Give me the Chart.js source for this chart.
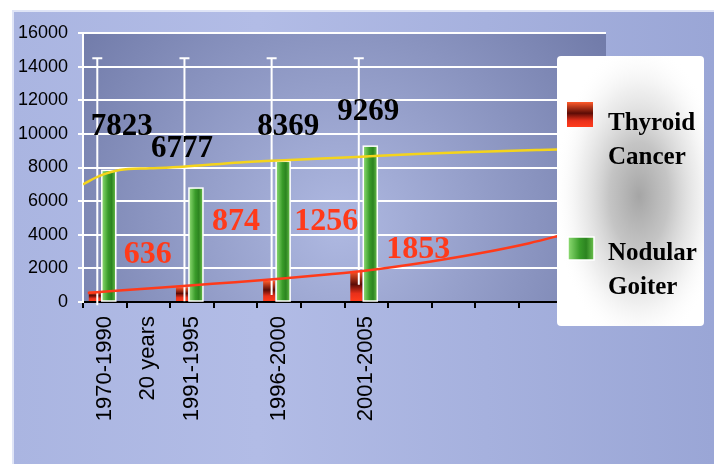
<!DOCTYPE html>
<html>
<head>
<meta charset="utf-8">
<title>Thyroid Cancer and Nodular Goiter</title>
<script src="https://cdn.jsdelivr.net/npm/chart.js@4.4.0/dist/chart.umd.min.js"></script>
<style>
    html, body { margin: 0; padding: 0; background: #fff; }
    #wrap { width: 714px; height: 464px; }
</style>
</head>
<body>
<div id="wrap"><canvas id="chart"></canvas></div>
<script>
var slotLabels = ["1970-1990", "20 years", "1991-1995", "", "1996-2000", "", "2001-2005", "", "", "", "", ""];
var periods = ["1970-1990", "1991-1995", "1996-2000", "2001-2005"];
var thyroidCancer = [636, 874, 1256, 1853];
var nodularGoiter = [7823, 6777, 8369, 9269];
var errorTop = [14500, 14500, 14500, 14500];
var yTicks = [0, 2000, 4000, 6000, 8000, 10000, 12000, 14000, 16000];

// trendlines; x is counted in category slots from the left edge
var goiterTrendX = [0, 0.38, 0.84, 1.53, 2.29, 3.6, 4.74, 6.27, 7.65, 8.94, 10.47, 12];
var goiterTrendY = [7000, 7500, 7850, 7950, 8050, 8300, 8450, 8630, 8800, 8920, 9040, 9150];
var cancerTrendX = [0.11, 0.91, 2.06, 2.97, 4.58, 5.66, 6.42, 7.95, 9.1, 10.24, 10.86, 12];
var cancerTrendY = [540, 700, 900, 1080, 1400, 1650, 1850, 2400, 2900, 3500, 3900, 4700];

// where the value labels sit, in pixels from the top of their bar
var goiterLabelShift = [[13, -35], [-14, -31], [5, -26], [-2, -26]];
var cancerLabelShift = [[53, -28], [54, -57], [57, -51], [62, -13]];

function pairs(xs, ys) {
    return xs.map(function (x, i) { return {x: x, y: ys[i]}; });
}

// bar box: x from the category scale, top and base from the bar element
function barBox(chart, dsIndex, i) {
    var ds = chart.data.datasets[dsIndex];
    var bar = chart.getDatasetMeta(dsIndex).data[i];
    var p = bar.getProps(['y', 'base'], true);
    var cx = chart.scales.x.getPixelForValue(periods[i]) + ds.shift;
    return {x: cx, left: cx - ds.drawWidth / 2, width: ds.drawWidth, y: p.y, base: p.base};
}

function redShade(c, top, bottom) {
    var g = c.createLinearGradient(0, top, 0, bottom);
    g.addColorStop(0, '#ff5a2a');
    g.addColorStop(0.45, '#5c0c06');
    g.addColorStop(0.75, '#e8301a');
    g.addColorStop(1, '#ff3c1c');
    return g;
}

function greenShade(c, left, right) {
    var g = c.createLinearGradient(left, 0, right, 0);
    g.addColorStop(0, '#8fdc74');
    g.addColorStop(0.45, '#3a9c2a');
    g.addColorStop(0.7, '#2c8420');
    g.addColorStop(1, '#6cc24e');
    return g;
}

var backdrop = {
    id: 'backdrop',
    beforeDraw: function (chart) {
        var c = chart.ctx, a = chart.chartArea;
        c.save();
        c.fillStyle = '#fff';
        c.fillRect(0, 0, chart.width, chart.height);
        var g = c.createLinearGradient(12, 0, chart.width, 0);
        g.addColorStop(0, '#aab5e1');
        g.addColorStop(0.35, '#b2bce6');
        g.addColorStop(1, '#9aa6d6');
        c.fillStyle = g;
        c.fillRect(12, 10, chart.width - 12, chart.height - 10);
        c.strokeStyle = '#dfe4f6';
        c.lineWidth = 2;
        c.beginPath();
        c.moveTo(13, chart.height);
        c.lineTo(13, 11);
        c.lineTo(chart.width, 11);
        c.stroke();
        var r = c.createRadialGradient(340, 225, 10, 340, 225, 320);
        r.addColorStop(0, '#adb7e0');
        r.addColorStop(1, '#727caa');
        c.fillStyle = r;
        c.fillRect(a.left, a.top, a.right - a.left, a.bottom - a.top);
        c.restore();
    }
};

var barShade = {
    id: 'barShade',
    afterDatasetDraw: function (chart, args) {
        var ds = chart.data.datasets[args.index];
        if (ds.type !== 'bar') return;
        var c = chart.ctx;
        var y = chart.scales.y;
        c.save();
        args.meta.data.forEach(function (bar, i) {
            var b = barBox(chart, args.index, i);
            if (ds.label === 'Thyroid Cancer') {
                c.fillStyle = redShade(c, b.y, b.base);
                c.fillRect(b.left, b.y, b.width, b.base - b.y);
                // error bar with cap
                var top = y.getPixelForValue(errorTop[i]);
                var ex = b.x + 2.5;
                c.strokeStyle = '#fff';
                c.lineWidth = 2;
                c.beginPath();
                c.moveTo(ex, b.y + 14);
                c.lineTo(ex, top);
                c.moveTo(ex - 5, top);
                c.lineTo(ex + 5, top);
                c.stroke();
            } else {
                c.fillStyle = greenShade(c, b.left, b.left + b.width);
                c.fillRect(b.left, b.y, b.width, b.base - b.y);
                c.strokeStyle = '#fff';
                c.lineWidth = 1.5;
                c.strokeRect(b.left, b.y, b.width, b.base - b.y);
            }
        });
        c.restore();
    }
};

var valueLabels = {
    id: 'valueLabels',
    afterDatasetsDraw: function (chart) {
        var c = chart.ctx;
        c.save();
        c.textAlign = 'center';
        c.textBaseline = 'alphabetic';
        nodularGoiter.forEach(function (v, i) {
            var b = barBox(chart, 1, i);
            c.font = 'bold 31px "Liberation Serif"';
            c.fillStyle = '#000';
            c.fillText(String(v), b.x + goiterLabelShift[i][0], b.y + goiterLabelShift[i][1]);
        });
        thyroidCancer.forEach(function (v, i) {
            var b = barBox(chart, 0, i);
            c.font = 'bold 32px "Liberation Serif"';
            c.fillStyle = '#ff3a1a';
            c.fillText(String(v), b.x + cancerLabelShift[i][0], b.y + cancerLabelShift[i][1]);
        });
        c.restore();
    }
};

var sideLegend = {
    id: 'sideLegend',
    afterDraw: function (chart) {
        var c = chart.ctx;
        var bx = 557, by = 56, bw = 147, bh = 270;
        c.save();
        c.beginPath();
        c.roundRect(bx, by, bw, bh, 4);
        c.fillStyle = '#fff';
        c.fill();
        c.clip();
        c.translate(bx + 82, by + 140);
        c.scale(1, 1.8);
        var g = c.createRadialGradient(0, 0, 0, 0, 0, 85);
        g.addColorStop(0, 'rgba(165,165,165,1)');
        g.addColorStop(0.35, 'rgba(190,190,190,0.9)');
        g.addColorStop(0.7, 'rgba(228,228,228,0.6)');
        g.addColorStop(1, 'rgba(255,255,255,0)');
        c.fillStyle = g;
        c.fillRect(-100, -90, 200, 180);
        c.restore();

        c.save();
        c.fillStyle = redShade(c, 102, 127);
        c.fillRect(567, 102, 26, 25);
        c.fillStyle = greenShade(c, 568, 594);
        c.fillRect(568, 237, 26, 23);
        c.strokeStyle = '#fff';
        c.lineWidth = 1.5;
        c.strokeRect(568, 237, 26, 23);

        c.fillStyle = '#000';
        c.font = 'bold 25px "Liberation Serif"';
        c.textAlign = 'left';
        var rows = [[chart.data.datasets[0].label, 130], [chart.data.datasets[1].label, 260]];
        rows.forEach(function (row) {
            row[0].split(' ').forEach(function (word, k) {
                c.fillText(word, 608, row[1] + k * 34);
            });
        });
        c.restore();
    }
};

new Chart(document.getElementById('chart'), {
    type: 'bar',
    data: {
        labels: slotLabels,
        datasets: [{
            type: 'bar',
            label: 'Thyroid Cancer',
            data: pairs(periods, thyroidCancer),
            backgroundColor: 'rgba(0,0,0,0)',
            shift: -10,
            drawWidth: 12,
            order: 2
        }, {
            type: 'bar',
            label: 'Nodular Goiter',
            data: pairs(periods, nodularGoiter),
            backgroundColor: 'rgba(0,0,0,0)',
            shift: 4,
            drawWidth: 14,
            order: 2
        }, {
            type: 'line',
            label: 'Goiter trend',
            xAxisID: 'xt',
            data: pairs(goiterTrendX, goiterTrendY),
            borderColor: '#f4d41c',
            borderWidth: 2.5,
            pointRadius: 0,
            cubicInterpolationMode: 'monotone',
            order: 1
        }, {
            type: 'line',
            label: 'Cancer trend',
            xAxisID: 'xt',
            data: pairs(cancerTrendX, cancerTrendY),
            borderColor: '#ff3a1a',
            borderWidth: 2.5,
            pointRadius: 0,
            cubicInterpolationMode: 'monotone',
            order: 1
        }]
    },
    options: {
        responsive: true,
        maintainAspectRatio: false,
        animation: false,
        layout: {
            padding: {left: 0, top: 33, right: 108, bottom: 0}
        },
        plugins: {
            legend: {display: false},
            tooltip: {enabled: false}
        },
        scales: {
            x: {
                offset: true,
                grid: {
                    drawOnChartArea: false,
                    color: '#000',
                    lineWidth: 2,
                    tickLength: 6,
                    offset: true
                },
                border: {color: '#000', width: 2},
                ticks: {
                    autoSkip: false,
                    maxRotation: 90,
                    minRotation: 90,
                    padding: 8,
                    color: '#000',
                    font: {family: '"Liberation Sans"', size: 22}
                },
                afterFit: function (s) { s.height = 162; }
            },
            xt: {
                type: 'linear',
                display: false,
                offset: false,
                min: 0,
                max: 12
            },
            y: {
                min: 0,
                max: 16000,
                afterBuildTicks: function (s) {
                    s.ticks = yTicks.map(function (v) { return {value: v}; });
                },
                grid: {
                    color: '#fff',
                    lineWidth: 2,
                    tickLength: 5
                },
                border: {color: '#fff', width: 2},
                ticks: {
                    padding: 10,
                    color: '#000',
                    font: {family: '"Liberation Sans"', size: 18},
                    callback: function (v) { return String(v); }
                },
                afterFit: function (s) { s.width = 83; }
            }
        }
    },
    plugins: [backdrop, barShade, valueLabels, sideLegend]
});
</script>
</body>
</html>
